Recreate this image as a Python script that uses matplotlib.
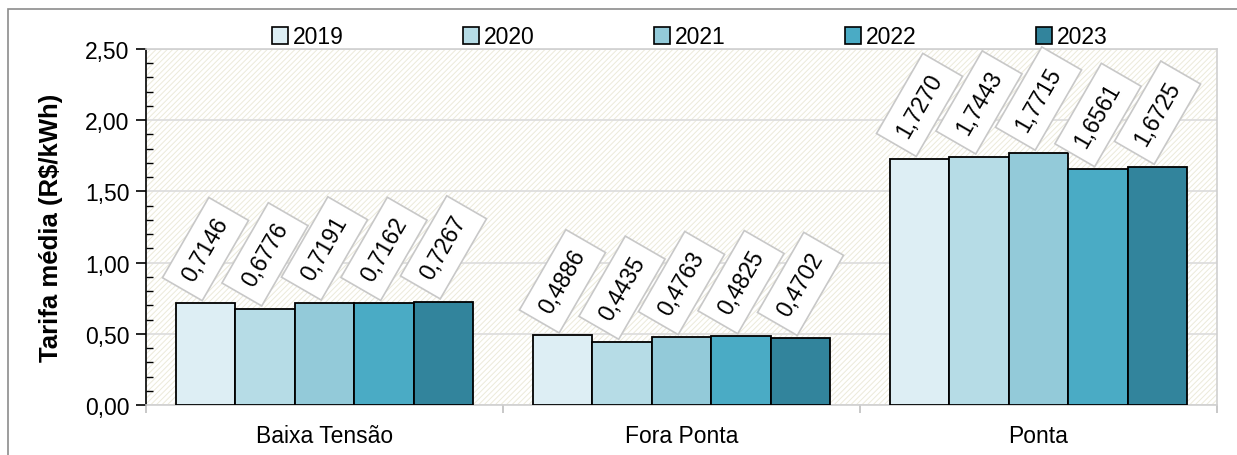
import matplotlib
matplotlib.use("Agg")
import matplotlib.pyplot as plt
from matplotlib.patches import Rectangle, Patch
from matplotlib import font_manager as fm
import numpy as np

categories = ["Baixa Tensão", "Fora Ponta", "Ponta"]
years = ["2019", "2020", "2021", "2022", "2023"]
values = {
    "2019": [0.7146, 0.4886, 1.7270],
    "2020": [0.6776, 0.4435, 1.7443],
    "2021": [0.7191, 0.4763, 1.7715],
    "2022": [0.7162, 0.4825, 1.6561],
    "2023": [0.7267, 0.4702, 1.6725],
}
colors = ["#DDEEF4", "#B6DCE6", "#93CAD9", "#4AABC5", "#32849C"]
yticks = [0.0, 0.5, 1.0, 1.5, 2.0, 2.5]
ylabel = "Tarifa média (R$/kWh)"

names = {f.name for f in fm.fontManager.ttflist}
fam = "Liberation Sans Narrow" if "Liberation Sans Narrow" in names else "Liberation Sans"
plt.rcParams["font.family"] = [fam, "DejaVu Sans"]
plt.rcParams["hatch.linewidth"] = 0.7

W, H, DPI = 1237, 456, 100
fig = plt.figure(figsize=(W / DPI, H / DPI), dpi=DPI)
ax = fig.add_axes([146 / W, 50 / H, (1217 - 146) / W, (406 - 50) / H])

# outer frame
fig.patches.append(Rectangle((8 / W, -0.5), 2, (H - 10) / H + 0.5, transform=fig.transFigure,
                             fill=False, edgecolor="#8C8C8C", lw=1.2, zorder=0))

# hatched background
ax.add_patch(Rectangle((0, 0), 1, 1, transform=ax.transAxes, facecolor="white",
                       edgecolor="#ECEADA", hatch="//////", lw=0, zorder=0))

x = np.arange(len(categories))
bw = 1 / 6
for i, (yr, col) in enumerate(zip(years, colors)):
    pos = x - 2 * bw + i * bw
    ax.bar(pos, values[yr], width=bw, color=col, edgecolor="black", lw=1.3, zorder=3)
    for px, v in zip(pos, values[yr]):
        ax.annotate(f"{v:.4f}".replace(".", ","), (px, v), xytext=(0, 39), textcoords="offset points",
                    rotation=60, ha="center", va="center", rotation_mode="anchor",
                    fontsize=16.5, zorder=5,
                    bbox=dict(boxstyle="square,pad=0.5", fc="white", ec="#C8C8C8", lw=1.2))

ax.set_xlim(-0.5, 2.5)
ax.set_ylim(0, 2.5)
ax.set_yticks(yticks)
ax.set_yticklabels([f"{t:.2f}".replace(".", ",") for t in yticks], fontsize=16.5)
ax.set_yticks(np.arange(0, 2.501, 0.1), minor=True)
ax.tick_params(axis="y", which="major", direction="out", length=7, width=1.2, color="black", pad=5)
ax.tick_params(axis="y", which="minor", direction="in", length=5, width=1.0, color="black")
ax.set_xticks(x)
ax.set_xticklabels(categories, fontsize=16.5)
ax.set_xticks([-0.5, 0.5, 1.5, 2.5], minor=True)
ax.tick_params(axis="x", which="major", length=0, pad=14)
ax.tick_params(axis="x", which="minor", direction="out", length=6, width=1.2, color="#BFBFBF")
ax.yaxis.grid(True, color="#DCDCDC", lw=1.2, zorder=1)
ax.set_axisbelow(True)
for s in ["top", "right", "bottom"]:
    ax.spines[s].set_color("#D0D0D0")
    ax.spines[s].set_linewidth(1.2)
ax.spines["left"].set_color("black")
ax.spines["left"].set_linewidth(1.2)

ax.set_ylabel(ylabel, fontsize=18.5, fontweight="bold", labelpad=16)

handles = [Patch(facecolor=c, edgecolor="black", lw=1.2) for c in colors]
fig.legend(handles, years, loc="center left", bbox_to_anchor=(272 / W, 1 - 38 / H), ncol=5,
           frameon=False, fontsize=16.5, handlelength=0.7, handleheight=0.7, handletextpad=0.2,
           columnspacing=5.22, borderaxespad=0, borderpad=0)

fig.savefig("out.png", dpi=DPI)
